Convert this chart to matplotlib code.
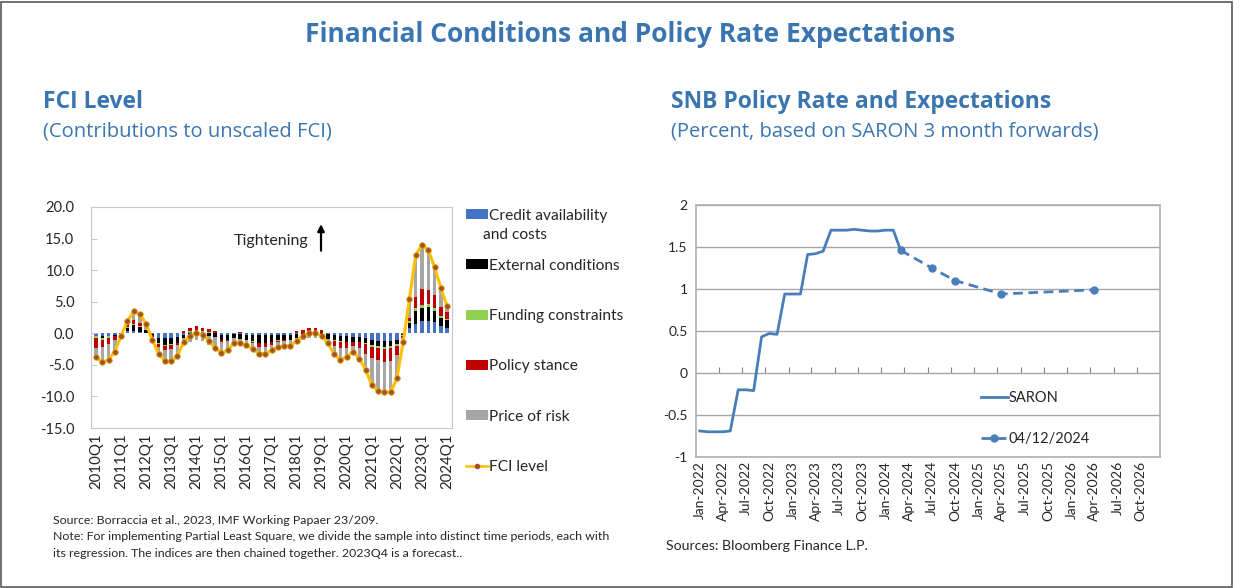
# %%
import numpy as np
import pandas as pd
import matplotlib
matplotlib.use("Agg")
import matplotlib.pyplot as plt
import matplotlib.dates as mdates
from matplotlib.lines import Line2D
from matplotlib.patches import Patch, Rectangle

# %% data: FCI contributions, quarterly 2010Q1 - 2024Q1
quarters = [f"{y}Q{q}" for y in range(2010, 2025) for q in range(1, 5)][:57]

credit = [-0.5, -0.5, -0.4, -0.3, -0.2, 0.3, 0.3, 0.2, 0.1, -0.1, -0.7, -0.8,
          -0.7, -0.6, -0.2, 0.2, 0.3, 0.2, 0.1, 0.1, -0.2, -0.2, -0.1, -0.1,
          -0.2, -0.2, -0.3, -0.3, -0.3, -0.2, -0.2, -0.2, -0.1, 0.1, 0.1, 0.1,
          0.1, -0.1, -0.3, -0.4, -0.5, -0.6, -0.6, -0.8, -1.0, -1.2, -1.2, -1.2,
          -1.1, -0.1, 0.8, 1.4, 2.0, 2.0, 1.8, 1.2, 0.9]
external = [0.0, -0.2, -0.1, -0.1, -0.1, 0.6, 1.0, 0.8, 0.4, -0.2, -0.8, -1.0,
            -1.0, -0.9, -0.6, -0.5, -0.4, -0.4, -0.5, -0.6, -0.8, -0.8, -0.7, -0.8,
            -0.9, -1.0, -1.2, -1.2, -1.0, -0.9, -0.8, -0.8, -0.6, -0.5, -0.5, -0.5,
            -0.6, -0.8, -0.8, -0.8, -0.8, -0.7, -0.7, -0.7, -0.8, -0.8, -0.9, -0.8,
            -0.6, -0.2, 0.9, 2.1, 2.0, 2.1, 1.8, 1.2, 1.2]
funding = [-0.3, -0.3, -0.3, -0.1, 0.0, 0.1, 0.1, 0.1, 0.0, 0.0, -0.2, -0.2,
           -0.2, -0.1, 0.1, 0.1, 0.1, 0.1, 0.1, 0.0, -0.1, -0.1, 0.0, 0.0,
           -0.1, -0.1, -0.1, -0.1, -0.1, -0.1, -0.1, -0.1, 0.0, 0.0, 0.1, 0.1,
           0.0, 0.0, -0.1, -0.1, -0.1, -0.1, -0.1, -0.2, -0.3, -0.4, -0.4, -0.4,
           -0.3, -0.1, 0.2, 0.5, 0.5, 0.5, 0.4, 0.3, 0.2]
policy = [-1.5, -1.2, -0.9, -0.5, 0.0, 0.4, 0.7, 0.5, 0.1, -0.3, -0.5, -0.6,
          -0.6, -0.3, 0.3, 0.6, 0.7, 0.6, 0.5, 0.3, -0.2, -0.1, 0.1, 0.2,
          0.1, -0.3, -0.6, -0.6, -0.4, -0.2, -0.1, 0.1, 0.3, 0.5, 0.6, 0.6,
          0.4, 0.1, -0.8, -1.0, -0.9, -0.6, -1.0, -1.5, -1.8, -1.9, -2.0, -2.0,
          -1.5, -0.4, 0.5, 1.7, 2.5, 2.3, 2.0, 1.4, 1.0]
price_risk = [-1.5, -2.4, -2.5, -1.9, -0.1, 0.5, 1.4, 1.4, 0.9, -0.5, -1.0, -1.8,
              -1.9, -1.7, -0.9, -0.8, -0.6, -0.8, -1.4, -2.1, -1.8, -1.5, -0.8, -0.8,
              -0.8, -0.9, -1.0, -1.0, -0.9, -0.8, -0.8, -1.0, -0.8, -0.5, -0.3, -0.3,
              -0.3, -0.8, -1.3, -1.9, -1.4, -0.9, -1.6, -2.6, -4.3, -4.8, -4.8, -4.9,
              -3.6, -0.6, 3.1, 6.7, 7.0, 6.3, 4.5, 2.8, 1.0]
fci_level = [-3.8, -4.6, -4.2, -2.9, -0.4, 1.9, 3.5, 3.0, 1.5, -1.1, -3.2, -4.4,
             -4.4, -3.6, -1.3, -0.4, 0.1, -0.3, -1.2, -2.3, -3.1, -2.7, -1.5, -1.5,
             -1.9, -2.5, -3.2, -3.2, -2.7, -2.2, -2.0, -2.0, -1.2, -0.4, 0.0, 0.0,
             -0.4, -1.6, -3.3, -4.2, -3.7, -2.9, -4.0, -5.8, -8.2, -9.1, -9.3, -9.3,
             -7.1, -1.4, 5.5, 12.4, 14.0, 13.2, 10.5, 7.2, 4.3]

# %% data: SNB policy rate (SARON, monthly) and 3m-forward path as of 04/12/2024
saron_dates = pd.date_range("2022-01-01", periods=27, freq="MS")
saron = [-0.69, -0.70, -0.70, -0.70, -0.69, -0.20, -0.20, -0.21, 0.43, 0.47, 0.46, 0.94,
         0.94, 0.94, 1.41, 1.42, 1.45, 1.70, 1.70, 1.70, 1.71, 1.70, 1.69, 1.69,
         1.70, 1.70, 1.46]
fwd_dates = pd.to_datetime(["2024-03-01", "2024-07-01", "2024-10-01", "2025-04-01", "2026-04-01"])
fwd = [1.46, 1.25, 1.10, 0.94, 0.99]

# %% style
blue_title = "#3a75b0"
txt = "#262626"
comp_colors = {"Credit availability": "#4472c4", "External conditions": "#000000",
               "Funding constraints": "#92d050", "Policy stance": "#c00000",
               "Price of risk": "#a6a6a6"}
line_blue = "#4a7ebb"

plt.rcParams["font.family"] = ["Lato", "DejaVu Sans"]

fig = plt.figure(figsize=(12.41, 5.88), dpi=100)
fig.add_artist(Rectangle((0.001, 0.002), 0.992, 0.995, transform=fig.transFigure,
                         fill=False, edgecolor="#595959", linewidth=1.2))

fig.text(0.508, 0.942, "Financial Conditions and Policy Rate Expectations", ha="center", va="center",
         fontsize=19, fontweight="bold", color=blue_title, family="Open Sans")
fig.text(0.035, 0.826, "FCI Level", ha="left", va="center", fontsize=16.5, fontweight="bold",
         color=blue_title, family="Open Sans")
fig.text(0.035, 0.777, "(Contributions to unscaled FCI)", ha="left", va="center", fontsize=14.5,
         color=blue_title, family="Open Sans")
fig.text(0.541, 0.826, "SNB Policy Rate and Expectations", ha="left", va="center", fontsize=16.5,
         fontweight="bold", color=blue_title, family="Open Sans")
fig.text(0.541, 0.777, "(Percent, based on SARON 3 month forwards)", ha="left", va="center",
         fontsize=14.5, color=blue_title, family="Open Sans")

# %% left panel: stacked contributions
ax1 = fig.add_axes([0.0733, 0.272, 0.291, 0.376])
x = np.arange(len(quarters))
comps = [credit, external, funding, policy, price_risk]
pos_base = np.zeros(len(x))
neg_base = np.zeros(len(x))
for vals, (name, col) in zip(comps, comp_colors.items()):
    v = np.array(vals)
    base = np.where(v >= 0, pos_base, neg_base)
    ax1.bar(x, v, bottom=base, width=0.55, color=col, linewidth=0)
    pos_base = pos_base + np.clip(v, 0, None)
    neg_base = neg_base + np.clip(v, None, 0)
ax1.plot(x, fci_level, color="#ffc000", lw=2.2, marker="o", ms=4,
         markerfacecolor="#a0522d", markeredgecolor="#e6a100", markeredgewidth=0.6, zorder=5)

ax1.set_xlim(-0.8, len(x) - 0.2)
ax1.set_ylim(-15, 20)
ax1.set_yticks(np.arange(-15, 21, 5))
ax1.yaxis.set_major_formatter(matplotlib.ticker.FormatStrFormatter("%.1f"))
ax1.set_xticks(x[::4])
ax1.set_xticklabels(quarters[::4], rotation=90)
ax1.tick_params(axis="x", length=0, labelsize=10.8, colors=txt, pad=4)
ax1.tick_params(axis="y", direction="in", length=4, labelsize=10.5, colors=txt, pad=12,
                color="#c8c8c8")
for s in ax1.spines.values():
    s.set_color("#c8c8c8")
ax1.annotate("", xy=(0.637, 0.935), xytext=(0.637, 0.79), xycoords="axes fraction",
             arrowprops=dict(arrowstyle="-|>", color="black", lw=1.6, mutation_scale=10))
ax1.text(0.601, 0.845, "Tightening", transform=ax1.transAxes, ha="right", va="center",
         fontsize=11.5, color=txt)

handles = [Patch(facecolor=c, edgecolor="none") for c in comp_colors.values()]
handles.append(Line2D([], [], color="#ffc000", lw=1.8, marker="o", ms=3,
                      markerfacecolor="#a0522d", markeredgecolor="#a0522d"))
labels = ["Credit availability", "External conditions", "Funding constraints",
          "Policy stance", "Price of risk", "FCI level"]
fig.legend(handles, labels, loc="upper left", bbox_to_anchor=(0.364, 0.669), frameon=False,
           fontsize=11.2, labelspacing=2.33, handlelength=1.45, handleheight=0.6,
           handletextpad=0.05, labelcolor=txt)
fig.text(0.3895, 0.6, "and costs", ha="left", va="center", fontsize=11.2, color=txt)

fig.text(0.043, 0.115, "Source: Borraccia et al., 2023, IMF Working Papaer 23/209.", fontsize=8.9,
         color=txt, va="center")
fig.text(0.043, 0.087, "Note: For implementing Partial Least Square, we divide the sample into distinct "
         "time periods, each with", fontsize=8.9, color=txt, va="center")
fig.text(0.043, 0.059, "its regression. The indices are then chained together. 2023Q4 is a forecast..",
         fontsize=8.9, color=txt, va="center")

# %% right panel: SARON and forwards
ax2 = fig.add_axes([0.5608, 0.2228, 0.374, 0.4286])
ax2.plot(saron_dates, saron, color=line_blue, lw=2, label="SARON")
ax2.plot(fwd_dates, fwd, color=line_blue, lw=2, ls=(0, (3.5, 2)), marker="o", ms=5,
         label="04/12/2024")
ax2.set_ylim(-1, 2)
ax2.set_yticks(np.arange(-1, 2.01, 0.5))
ax2.yaxis.set_major_formatter(matplotlib.ticker.FormatStrFormatter("%g"))
ax2.set_xlim(pd.Timestamp("2021-12-17"), pd.Timestamp("2026-12-16"))
ax2.xaxis.set_major_locator(mdates.MonthLocator(bymonth=[1, 4, 7, 10]))
ax2.xaxis.set_major_formatter(mdates.DateFormatter("%b-%Y"))
ax2.tick_params(axis="x", rotation=90, length=0, labelsize=10, colors=txt, pad=3)
ax2.tick_params(axis="y", length=0, labelsize=10, colors=txt, pad=6)
ax2.grid(axis="y", color="#a6a6a6", lw=1)
for s in ax2.spines.values():
    s.set_color("#b0b0b0")
    s.set_linewidth(1.2)
ax2.set_axisbelow(True)

# small tick marks along the zero line
zero_ax = ax2.secondary_xaxis(1 / 3)
zero_ax.set_xticks(pd.date_range("2022-03-16", periods=19, freq=pd.DateOffset(months=3)))
zero_ax.tick_params(direction="in", length=4, color="#808080", labelbottom=False)
zero_ax.spines["bottom"].set_visible(False)

ax2.legend(loc="upper left", bbox_to_anchor=(0.585, 0.315), frameon=False, fontsize=10.5,
           labelspacing=1.9, handlelength=1.9, handletextpad=0.0, labelcolor=txt)

fig.text(0.537, 0.072, "Sources: Bloomberg Finance L.P.", fontsize=10.2, color=txt, va="center")

fig.savefig("out.png", dpi=100)
